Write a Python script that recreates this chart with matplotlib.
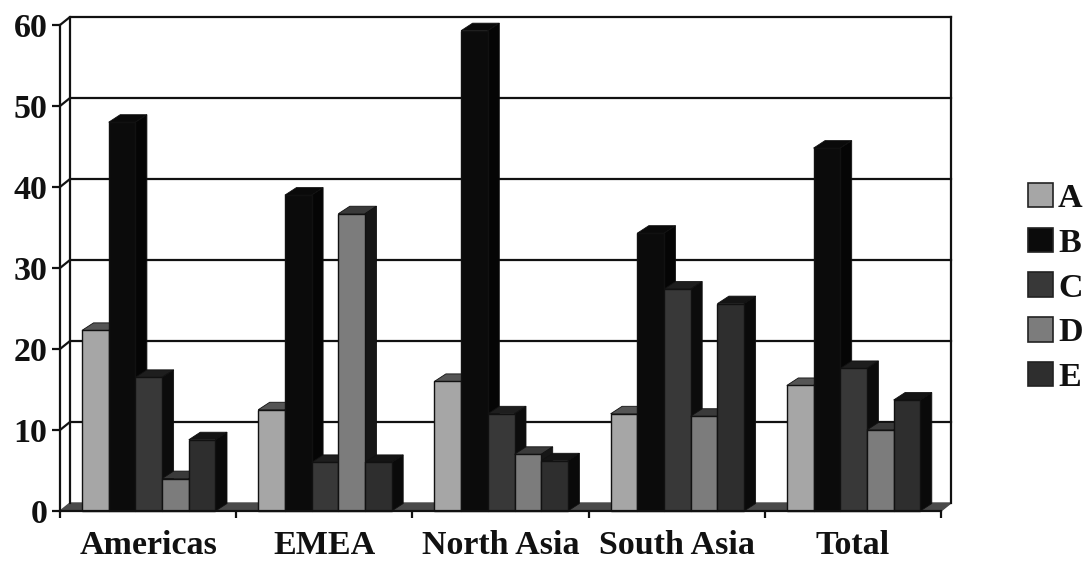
import matplotlib
matplotlib.use("Agg")
import matplotlib.pyplot as plt
from matplotlib.patches import Patch

plt.rcParams['font.family'] = ['Liberation Serif', 'DejaVu Serif']
plt.rcParams['font.weight'] = 'bold'

regions = ["Americas", "EMEA", "North Asia", "South Asia", "Total"]
series = ["A", "B", "C", "D", "E"]
a_vals = [22.3, 12.5, 16.0, 12.0, 15.5]
b_vals = [48.0, 39.0, 59.3, 34.3, 44.8]
c_vals = [16.5, 6.0, 12.0, 27.4, 17.6]
d_vals = [4.0, 36.7, 7.0, 11.7, 10.0]
e_vals = [8.8, 6.0, 6.2, 25.6, 13.7]
yticks = [0, 10, 20, 30, 40, 50, 60]

values = [a_vals, b_vals, c_vals, d_vals, e_vals]
front = ['#a6a6a6', '#0b0b0b', '#383838', '#7c7c7c', '#2e2e2e']
top = ['#555555', '#0a0a0a', '#1e1e1e', '#3a3a3a', '#141414']
side = ['#1a1a1a', '#050505', '#0c0c0c', '#161616', '#0a0a0a']

W, H = 1088, 562
fig = plt.figure(figsize=(W / 100, H / 100), dpi=100)
ax = fig.add_axes([60 / W, (H - 511) / H, 881 / W, 486 / H])
ax.set_xlim(0, 5)
ax.set_ylim(0, 60)

# px to data units, for the fake 3d depth
ux = 5 / 881
uy = 60 / 486
wall_dx, wall_dy = 10 * ux, 8 * uy
bar_dx, bar_dy = 11.5 * ux, 7.5 * uy
bar_w = 26.7 * ux
pad = 22 * ux
lw = 1.6

# floor
ax.fill([0, wall_dx, 5 + wall_dx, 5], [0, wall_dy, wall_dy, 0], color='#4a4a4a', clip_on=False, zorder=1)

# back wall and gridlines
for v in yticks[1:]:
    ax.plot([0, wall_dx, 5 + wall_dx], [v, v + wall_dy, v + wall_dy], color='#111111', lw=lw, clip_on=False, zorder=1)
ax.plot([wall_dx, wall_dx], [wall_dy, 60 + wall_dy], color='#111111', lw=lw, clip_on=False, zorder=1)
ax.plot([5 + wall_dx, 5 + wall_dx], [wall_dy, 60 + wall_dy], color='#111111', lw=lw, clip_on=False, zorder=1)

z = 3
for g in range(len(regions)):
    for s in range(len(series)):
        v = values[s][g]
        x0 = g + pad + s * bar_w
        x1 = x0 + bar_w
        ax.fill([x0, x0 + bar_dx, x1 + bar_dx, x1], [v, v + bar_dy, v + bar_dy, v],
                color=top[s], ec='#111111', lw=0.6, clip_on=False, zorder=z)
        ax.fill([x1, x1 + bar_dx, x1 + bar_dx, x1], [0, bar_dy, v + bar_dy, v],
                color=side[s], ec='#111111', lw=0.6, clip_on=False, zorder=z)
        ax.bar(x0, v, width=bar_w, align='edge', color=front[s], edgecolor='#111111', lw=1.0,
               clip_on=False, zorder=z + 1)
        z += 2

for sp in ['top', 'right']:
    ax.spines[sp].set_visible(False)
for sp in ['left', 'bottom']:
    ax.spines[sp].set_linewidth(lw)
    ax.spines[sp].set_color('#111111')
    ax.spines[sp].set_zorder(200)

ax.set_yticks(yticks)
ax.set_xticks(range(6))
ax.set_xticks([g + 0.5 for g in range(5)], minor=True)
ax.set_xticklabels([])
ax.set_xticklabels(regions, minor=True, fontsize=24.5, fontweight='bold', color='#111111')
ax.tick_params(axis='x', which='major', length=5, width=lw, color='#111111')
ax.tick_params(axis='x', which='minor', length=0, pad=14)
ax.tick_params(axis='y', length=6, width=lw, color='#111111', labelsize=24.5, pad=3, labelcolor='#111111')

handles = [Patch(facecolor=front[i], edgecolor='#222222', lw=1.2) for i in range(5)]
fig.legend(handles, series, loc='center left', bbox_to_anchor=(1028 / W, 1 - 288 / H), frameon=False,
           fontsize=24.5, handlelength=0.73, handleheight=0.73, handletextpad=0.15, labelspacing=0.4,
           borderpad=0, borderaxespad=0, labelcolor='#111111')

fig.savefig("out.png", dpi=100)
